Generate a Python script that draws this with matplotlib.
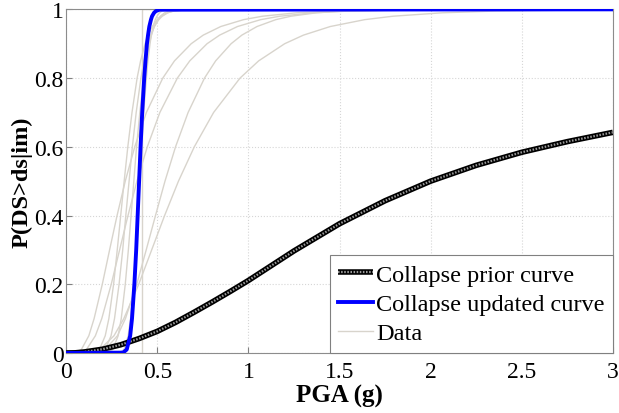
import matplotlib
matplotlib.use("Agg")
import matplotlib.pyplot as plt

p_levels = [0, 0.001, 0.01, 0.05, 0.1, 0.2, 0.3, 0.4, 0.5, 0.6, 0.7, 0.8,
            0.85, 0.9, 0.925, 0.95, 0.97, 0.98, 0.99, 0.995, 0.999, 1.0]

# gray "Data" curves (PGA in g at each level)
data_curves = [
    [0, 0.053, 0.083, 0.124, 0.153, 0.198, 0.238, 0.279, 0.324, 0.376, 0.440, 0.530,
     0.594, 0.686, 0.752, 0.848, 0.973, 1.077, 1.264, 1.462, 1.976, 3.0],
    [0, 0.074, 0.111, 0.160, 0.195, 0.247, 0.293, 0.339, 0.388, 0.445, 0.514, 0.610,
     0.678, 0.773, 0.842, 0.940, 1.067, 1.172, 1.356, 1.551, 2.045, 3.0],
    [0, 0.157, 0.214, 0.281, 0.325, 0.387, 0.439, 0.490, 0.542, 0.600, 0.669, 0.759,
     0.820, 0.905, 0.964, 1.047, 1.150, 1.233, 1.374, 1.519, 1.866, 3.0],
    [0, 0.124, 0.184, 0.262, 0.316, 0.398, 0.469, 0.540, 0.616, 0.703, 0.809, 0.954,
     1.056, 1.199, 1.302, 1.449, 1.638, 1.793, 2.065, 2.351, 2.950, 3.0],
    [0, 0.151, 0.182, 0.214, 0.234, 0.260, 0.280, 0.299, 0.318, 0.338, 0.361, 0.389,
     0.408, 0.433, 0.449, 0.472, 0.499, 0.521, 0.556, 0.590, 0.668, 3.0],
    [0, 0.183, 0.214, 0.246, 0.265, 0.290, 0.310, 0.327, 0.345, 0.363, 0.384, 0.410,
     0.427, 0.449, 0.464, 0.484, 0.508, 0.527, 0.557, 0.587, 0.652, 3.0],
    [0, 0.226, 0.255, 0.285, 0.302, 0.324, 0.341, 0.356, 0.371, 0.386, 0.404, 0.425,
     0.438, 0.456, 0.468, 0.483, 0.502, 0.516, 0.540, 0.562, 0.610, 3.0],
    [0, 0.293, 0.317, 0.340, 0.353, 0.370, 0.382, 0.393, 0.403, 0.414, 0.425, 0.440,
     0.448, 0.460, 0.467, 0.477, 0.489, 0.498, 0.512, 0.525, 0.554, 3.0],
]
# one data curve is a plain step
step_pga = [0, 0.417, 0.417, 3.0]
step_p = [0, 0, 1, 1]

# collapse updated curve (blue)
updated_pga = [0, 0.312, 0.332, 0.351, 0.361, 0.374, 0.384, 0.392, 0.400, 0.408,
               0.417, 0.428, 0.435, 0.443, 0.449, 0.456, 0.465, 0.471, 0.482,
               0.492, 0.512, 3.0]

# collapse prior curve (black dotted)
prior_pga = [0, 0.05, 0.1, 0.2, 0.3, 0.4, 0.5, 0.6, 0.7, 0.8, 0.9, 1.0, 1.25,
             1.5, 1.75, 2.0, 2.25, 2.5, 2.75, 3.0]
prior_p = [0, 0.0005, 0.003, 0.011, 0.024, 0.042, 0.063, 0.089, 0.118, 0.148,
           0.179, 0.211, 0.297, 0.376, 0.443, 0.50, 0.546, 0.584, 0.615, 0.642]

x_ticks = [0, 0.5, 1, 1.5, 2, 2.5, 3]
x_labels = ["0", "0.5", "1", "1.5", "2", "2.5", "3"]
y_ticks = [0, 0.2, 0.4, 0.6, 0.8, 1]
y_labels = ["0", "0.2", "0.4", "0.6", "0.8", "1"]

plt.rcParams["font.family"] = ["Liberation Serif", "DejaVu Serif"]

fig, ax = plt.subplots(figsize=(6.19, 4.14), dpi=100)
fig.subplots_adjust(left=0.107, right=0.990, bottom=0.145, top=0.975)

gray = "#d8d4cc"
for pga in data_curves:
    ax.plot(pga, p_levels, color=gray, lw=1.0, zorder=2)
data_line, = ax.plot(step_pga, step_p, color=gray, lw=1.0, zorder=2)

prior_a, = ax.plot(prior_pga, prior_p, color="black", lw=4.0, zorder=3,
                   solid_capstyle="butt")
prior_b, = ax.plot(prior_pga, prior_p, color="#9a9a9a", lw=1.6, zorder=3,
                   linestyle=(0, (0.7, 0.7)), dash_capstyle="butt")
upd_line, = ax.plot(updated_pga, p_levels, color="#0000ff", lw=2.8, zorder=4)

ax.set_xlim(0, 3)
ax.set_ylim(0, 1)
ax.set_xticks(x_ticks)
ax.set_xticklabels(x_labels)
ax.set_yticks(y_ticks)
ax.set_yticklabels(y_labels)
ax.tick_params(direction="in", length=4, labelsize=17, color="#808080")
ax.tick_params(axis="x", pad=6)
ax.tick_params(axis="y", pad=2)
ax.grid(True, color="#d6d6d6", linestyle=":", lw=0.8)
for s in ax.spines.values():
    s.set_color("#8c8c8c")

ax.set_xlabel("PGA (g)", fontsize=18, fontweight="bold", labelpad=1)
ax.set_ylabel("P(DS>ds|im)", fontsize=17.5, fontweight="bold", labelpad=1)

leg = ax.legend([(prior_a, prior_b), upd_line, data_line],
                ["Collapse prior curve", "Collapse updated curve", "Data"],
                loc="lower right", fontsize=17.5, fancybox=False, framealpha=1,
                edgecolor="#808080", borderaxespad=0, handlelength=1.45,
                handletextpad=0.1, labelspacing=0.3, borderpad=0.35)
leg.get_frame().set_linewidth(0.8)

fig.savefig("out.png", dpi=100)
